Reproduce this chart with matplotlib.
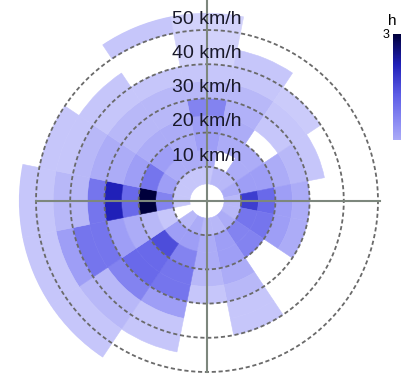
import numpy as np
import matplotlib
matplotlib.use('Agg')
import matplotlib.pyplot as plt
from matplotlib.colors import LinearSegmentedColormap, Normalize
from matplotlib.cm import ScalarMappable

nan = np.nan

directions = ['N', 'NNE', 'NE', 'ENE', 'E', 'ESE', 'SE', 'SSE',
              'S', 'SSW', 'SW', 'WSW', 'W', 'WNW', 'NW', 'NNW']
speed_edges = [0, 5, 10, 15, 20, 25, 30, 35, 40, 45, 50, 55]
ring_speeds = [10, 20, 30, 40, 50]

# hours per direction (rows) and speed bin (columns)
hours = [
    [nan, 2.0, 3.0, 3.5, 3.5, 4.5, 2.5, 2.0, 1.5, 1.5, 1.5],  # N
    [nan, 2.5, nan, 3.0, 3.0, 2.8, 2.5, 2.0, 2.0, nan, nan],  # NNE
    [nan, 2.5, 3.0, 3.0, nan, 2.0, 2.0, 1.8, nan, nan, nan],  # NE
    [nan, 3.0, 3.5, 3.5, 3.0, 2.5, 2.0, nan, nan, nan, nan],  # ENE
    [nan, 2.5, 7.0, 5.5, 3.5, 3.0, nan, nan, nan, nan, nan],  # E
    [nan, 2.5, 5.0, 5.0, 3.5, 3.0, nan, nan, nan, nan, nan],  # ESE
    [nan, 3.0, 4.5, 4.5, nan, nan, nan, nan, nan, nan, nan],  # SE
    [nan, 2.5, 3.5, 3.5, 3.0, 2.5, 2.0, 2.0, nan, nan, nan],  # SSE
    [nan, 2.5, 3.0, 3.0, 2.5, 2.0, nan, nan, nan, nan, nan],  # S
    [nan, 3.0, 3.5, 4.5, 5.0, 5.0, 3.5, 2.0, 2.0, nan, nan],  # SSW
    [nan, 2.5, 3.5, 6.5, 5.5, 5.5, 4.5, 2.5, 2.5, 2.0, 2.0],  # SW
    [nan, nan, 2.0, 2.5, 3.0, 3.5, 5.0, 5.0, 3.5, 2.0, 2.0],  # WSW
    [nan, 2.0, 4.5, 10.0, 5.5, 8.0, 5.0, 2.5, 2.5, 2.0, 2.0],  # W
    [nan, 2.0, 3.5, 5.0, 3.5, 3.0, 3.0, 2.5, 2.0, 2.0, nan],  # WNW
    [nan, 2.0, 3.0, 3.5, 3.0, 2.5, 2.5, 2.0, 2.0, nan, nan],  # NW
    [nan, 2.0, 3.0, 3.0, 3.0, 2.5, 2.5, 2.0, nan, nan, 2.0],  # NNW
]

cmap = LinearSegmentedColormap.from_list(
    'wind', ['#f4f4ff', '#c6c6fa', '#9090f4', '#5c5ce6', '#2020b8', '#00003c'])
norm = Normalize(0, 10)

W, H = 401, 381
fig = plt.figure(figsize=(W / 100, H / 100), dpi=100)

# centre of the rose at (207, 201) px, 50 km/h ring at 171 px
cx, cy, px_per_kmh = 207, 201, 3.42
rmax = speed_edges[-1]
R = rmax * px_per_kmh
ax = fig.add_axes([(cx - R) / W, (H - cy - R) / H, 2 * R / W, 2 * R / H],
                  projection='polar')
ax.set_theta_zero_location('N')
ax.set_theta_direction(-1)

step = 2 * np.pi / len(directions)
for i, row in enumerate(hours):
    for j, v in enumerate(row):
        if np.isnan(v):
            continue
        c = cmap(norm(v))
        ax.bar(i * step, speed_edges[j + 1] - speed_edges[j], width=step,
               bottom=speed_edges[j], color=c, edgecolor=c, linewidth=0.4,
               align='center')

# dashed speed rings
th = np.linspace(0, 2 * np.pi, 400)
for r in ring_speeds:
    ax.plot(th, np.full_like(th, r), color='#6a6a6a', lw=1.3,
            ls=(0, (2.3, 1.5)), zorder=3)

# cross through the centre
for ang, length in zip([0, 90, 180, 270], [60, 50.5, 50, 50]):
    a = np.deg2rad(ang)
    ax.plot([a, a], [0, length], color='#7d877d', lw=1.5,
            zorder=4, clip_on=False)

for r in ring_speeds:
    ax.text(0, r + 3.1, f'{r} km/h', ha='center', va='center',
            fontsize=14, family='Liberation Sans', color='#1a1a2a', zorder=5)

ax.set_ylim(0, rmax)
ax.grid(False)
ax.set_xticks([])
ax.set_yticks([])
ax.spines['polar'].set_visible(False)
ax.patch.set_alpha(0)

# colour bar, mostly cut off at the right edge
cax = fig.add_axes([393 / W, 1 - 140 / H, 20 / W, 106 / H])
cb = fig.colorbar(ScalarMappable(norm=norm, cmap=cmap), cax=cax)
cb.outline.set_visible(False)
cax.set_ylim(3, 10)
cax.tick_params(direction='in', length=4, color='#222244', labelright=False)
fig.text(388 / W, 1 - 21 / H, 'h', fontsize=11, family='Liberation Sans',
         va='center')
fig.text(383 / W, 1 - 35 / H, '3', fontsize=9, family='Liberation Sans',
         va='center')

plt.savefig('out.png', dpi=100)
plt.close()
